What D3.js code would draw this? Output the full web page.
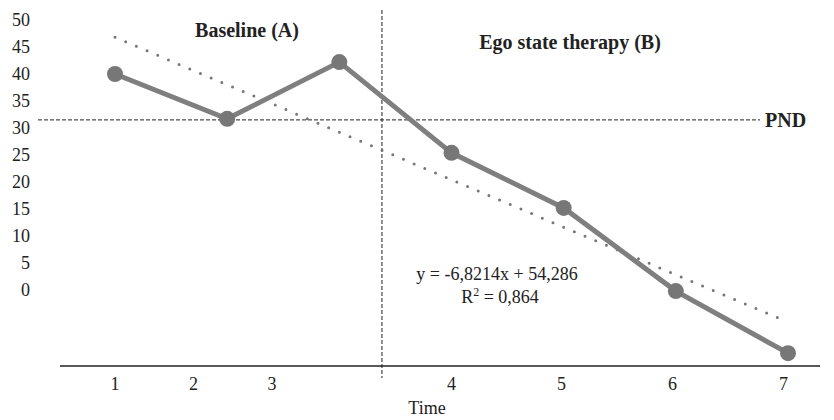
<!DOCTYPE html>
<html>
<head>
<meta charset="utf-8">
<script src="https://cdn.jsdelivr.net/npm/d3@7"></script>
<style>
  body { margin: 0; background: #fff; }
  text { font-family: "Liberation Serif", "DejaVu Serif", serif; fill: #222; }
</style>
</head>
<body>
<div id="chart"></div>
<script>
// data
var times = [1, 2, 3, 4, 5, 6, 7];
var scores = [40.0, 31.7, 42.2, 25.4, 15.2, -0.2, -11.7];
var yTicks = [0, 5, 10, 15, 20, 25, 30, 35, 40, 45, 50];
var xTickLabels = ["1", "2", "3", "4", "5", "6", "7"];
var xTickPos = [1, 1.7, 2.4, 4, 4.98, 5.97, 6.96];
var trendEnds = [{ t: 1, v: 46.8 }, { t: 6.96, v: -5.6 }];
var pnd = 31.5;
var phaseChange = 3.38;

var width = 834;
var height = 420;

var svg = d3.select("#chart")
    .append("svg")
    .attr("width", width)
    .attr("height", height);

var x = d3.scaleLinear()
    .domain([1, 7])
    .range([115, 788]);

var y = d3.scaleLinear()
    .domain([0, 50])
    .range([290, 20]);

// y labels (no axis line)
svg.selectAll("ylab")
    .data(yTicks)
    .join("text")
    .attr("x", 30)
    .attr("y", d => y(d))
    .attr("dy", "0.35em")
    .attr("text-anchor", "end")
    .style("font-size", "18px")
    .text(d => d);

// x axis line
var axisY = 366;
svg.append("line")
    .attr("x1", 60).attr("x2", 820)
    .attr("y1", axisY).attr("y2", axisY)
    .attr("stroke", "#222")
    .attr("stroke-width", 1.3);

svg.selectAll("xlab")
    .data(xTickLabels)
    .join("text")
    .attr("x", (d, i) => x(xTickPos[i]))
    .attr("y", axisY + 24)
    .attr("text-anchor", "middle")
    .style("font-size", "18px")
    .text(d => d);

svg.append("text")
    .attr("x", 427)
    .attr("y", 414)
    .attr("text-anchor", "middle")
    .style("font-size", "18px")
    .text("Time");

// phase change line
svg.append("line")
    .attr("x1", x(phaseChange)).attr("x2", x(phaseChange))
    .attr("y1", 10).attr("y2", axisY + 12)
    .attr("stroke", "#222")
    .attr("stroke-width", 1)
    .attr("stroke-dasharray", "4,2");

// PND line
svg.append("line")
    .attr("x1", 38).attr("x2", 760)
    .attr("y1", y(pnd)).attr("y2", y(pnd))
    .attr("stroke", "#222")
    .attr("stroke-width", 1)
    .attr("stroke-dasharray", "4,2");

svg.append("text")
    .attr("x", 765)
    .attr("y", y(pnd))
    .attr("dy", "0.35em")
    .style("font-size", "20px")
    .style("font-weight", "bold")
    .text("PND");

// phase titles
svg.append("text")
    .attr("x", 247)
    .attr("y", 37)
    .attr("text-anchor", "middle")
    .style("font-size", "20px")
    .style("font-weight", "bold")
    .text("Baseline (A)");

svg.append("text")
    .attr("x", 570)
    .attr("y", 49)
    .attr("text-anchor", "middle")
    .style("font-size", "20px")
    .style("font-weight", "bold")
    .text("Ego state therapy (B)");

// trend line (dotted)
svg.append("path")
    .datum(trendEnds)
    .attr("fill", "none")
    .attr("stroke", "#777")
    .attr("stroke-width", 3)
    .attr("stroke-linecap", "round")
    .attr("stroke-dasharray", "0,11.6")
    .attr("d", d3.line()
        .x(d => x(d.t))
        .y(d => y(d.v))
    );

// data line
var pts = times.map((t, i) => ({ t: t, v: scores[i] }));
svg.append("path")
    .datum(pts)
    .attr("fill", "none")
    .attr("stroke", "#7f7f7f")
    .attr("stroke-width", 5)
    .attr("d", d3.line()
        .x(d => x(d.t))
        .y(d => y(d.v))
    );

svg.selectAll("pt")
    .data(pts)
    .join("circle")
    .attr("cx", d => x(d.t))
    .attr("cy", d => y(d.v))
    .attr("r", 8)
    .attr("fill", "#777");

// regression text
svg.append("text")
    .attr("x", 497)
    .attr("y", 280)
    .attr("text-anchor", "middle")
    .style("font-size", "18px")
    .text("y = -6,8214x + 54,286");

var r2 = svg.append("text")
    .attr("x", 500)
    .attr("y", 303)
    .attr("text-anchor", "middle")
    .style("font-size", "18px");
r2.append("tspan").text("R");
r2.append("tspan").attr("dy", -7).style("font-size", "12px").text("2");
r2.append("tspan").attr("dy", 7).text(" = 0,864");
</script>
</body>
</html>
